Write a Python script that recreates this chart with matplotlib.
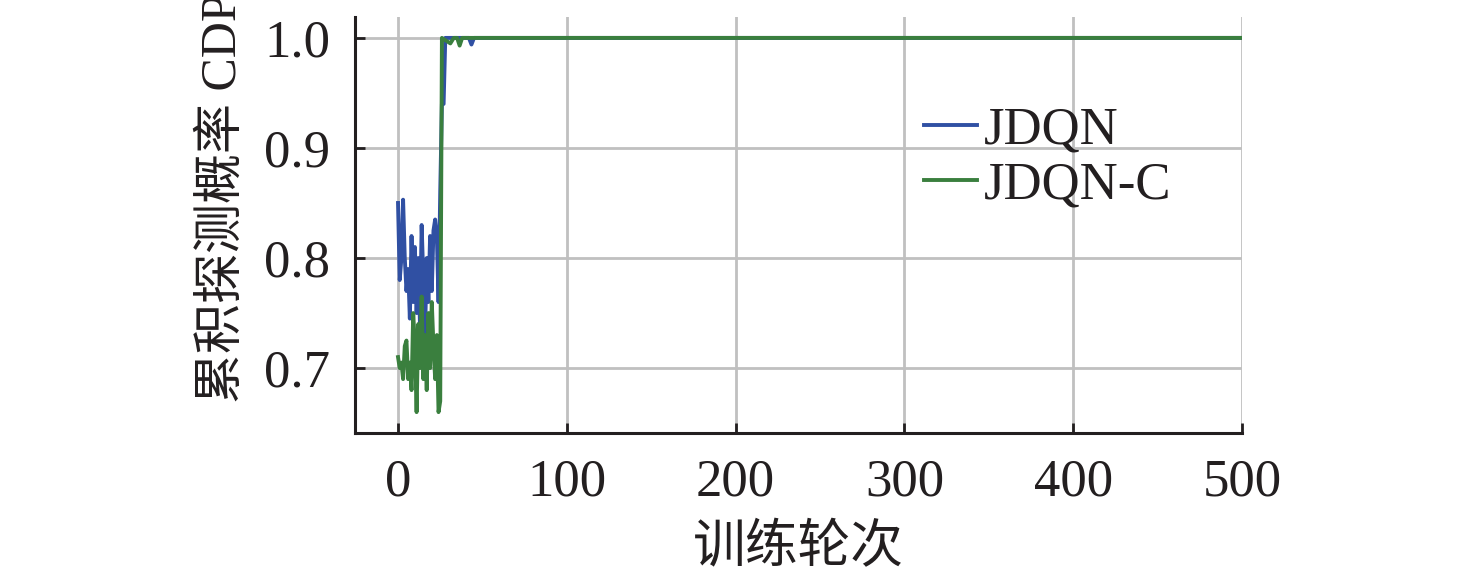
import numpy as np
import matplotlib
matplotlib.use('Agg')
import matplotlib.pyplot as plt

plt.rcParams['font.family'] = ['Liberation Serif', 'Noto Sans CJK SC']
plt.rcParams['axes.unicode_minus'] = False

# JDQN (blue)
jdqn_ep = [0, 1, 2, 3, 4, 5, 6, 7, 8, 9, 10, 11, 12, 13, 14, 15, 16, 17, 18, 19,
           20, 21, 22, 23, 24, 25, 26, 27, 28, 42, 43.5, 45, 500]
jdqn_cdp = [0.85, 0.78, 0.80, 0.853, 0.80, 0.77, 0.79, 0.745, 0.82, 0.76,
            0.81, 0.75, 0.80, 0.74, 0.83, 0.78, 0.73, 0.80, 0.76, 0.82,
            0.77, 0.825, 0.835, 0.82, 0.76, 0.86, 0.94, 0.94, 1.0, 1.0, 0.994, 1.0, 1.0]

# JDQN-C (green)
jdqnc_ep = [0, 1, 2, 3, 4, 5, 6, 7, 8, 9, 10, 11, 12, 13, 14, 15, 16, 17, 18, 19,
            20, 21, 22, 23, 24, 25, 26, 28, 31, 33, 35, 36.5, 38, 500]
jdqnc_cdp = [0.71, 0.70, 0.705, 0.69, 0.72, 0.725, 0.69, 0.705, 0.68, 0.75,
             0.72, 0.66, 0.74, 0.70, 0.765, 0.69, 0.73, 0.68, 0.75, 0.70,
             0.76, 0.72, 0.69, 0.73, 0.66, 0.67, 1.0, 0.998, 0.995, 1.0, 1.0, 0.993, 1.0, 1.0]

xticks = [0, 100, 200, 300, 400, 500]
yticks = [0.7, 0.8, 0.9, 1.0]

fig = plt.figure(figsize=(14.76, 5.8), dpi=100)
ax = fig.add_axes([0.2405, 0.2534, 0.601, 0.7173])

ax.plot(jdqn_ep, jdqn_cdp, color='#3050a3', lw=2.8, label='JDQN')
ax.plot(jdqnc_ep, jdqnc_cdp, color='#3a7f3e', lw=2.8, label='JDQN-C')

ax.set_xlim(-25.5, 500)
ax.set_ylim(0.641, 1.019)
ax.set_xticks(xticks)
ax.set_yticks(yticks)
ax.set_yticklabels(['%.1f' % v for v in yticks])
ax.grid(True, color='#c0c0c0', lw=2)
ax.set_axisbelow(True)

for s in ['top', 'right']:
    ax.spines[s].set_visible(False)
for s in ['left', 'bottom']:
    ax.spines[s].set_linewidth(2.2)
    ax.spines[s].set_color('#231f20')

ax.tick_params(direction='in', length=7, width=2, color='#231f20',
               labelsize=38, labelcolor='#231f20')
ax.tick_params(axis='x', pad=18)
ax.tick_params(axis='y', pad=18)

ax.set_xlabel('训练轮次', fontsize=38, color='#231f20', labelpad=13)
ax.set_ylabel('累积探测概率 CDP', fontsize=36, color='#231f20')
ax.yaxis.set_label_coords(-0.122, 0.565)

ax.legend(loc='upper left', bbox_to_anchor=(0.618, 0.835), frameon=False,
          fontsize=38, handlelength=1.0, handletextpad=0.12,
          labelspacing=0.12, borderaxespad=0, labelcolor='#231f20')

fig.savefig('out.png', dpi=100)
